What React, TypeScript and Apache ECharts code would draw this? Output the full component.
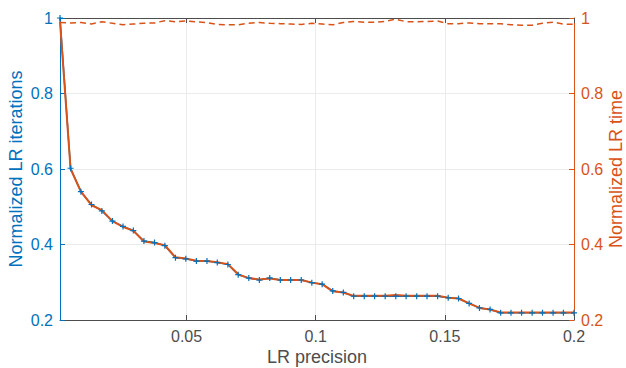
import React, { useEffect, useRef } from 'react';
import * as echarts from 'echarts';

const precision = [
  0.001, 0.0051, 0.0091, 0.0132, 0.0172, 0.0213, 0.0254, 0.0294, 0.0335, 0.0376,
  0.0416, 0.0457, 0.0497, 0.0538, 0.0579, 0.0619, 0.066, 0.07, 0.0741, 0.0782,
  0.0822, 0.0863, 0.0903, 0.0944, 0.0985, 0.1025, 0.1066, 0.1107, 0.1147, 0.1188,
  0.1228, 0.1269, 0.131, 0.135, 0.1391, 0.1431, 0.1472, 0.1513, 0.1553, 0.1594,
  0.1634, 0.1675, 0.1716, 0.1756, 0.1797, 0.1838, 0.1878, 0.1919, 0.1959, 0.2,
];

const iterations = [
  1.0, 0.602, 0.54, 0.506, 0.489, 0.462, 0.448, 0.437, 0.409, 0.405,
  0.397, 0.365, 0.362, 0.356, 0.356, 0.352, 0.347, 0.32, 0.311, 0.306,
  0.311, 0.306, 0.306, 0.306, 0.299, 0.295, 0.277, 0.273, 0.263, 0.263,
  0.263, 0.263, 0.263, 0.263, 0.263, 0.263, 0.263, 0.259, 0.257, 0.244,
  0.232, 0.228, 0.219, 0.219, 0.219, 0.219, 0.219, 0.219, 0.219, 0.219,
];

const timeNorm = [
  0.99, 0.6, 0.54, 0.504, 0.491, 0.462, 0.447, 0.436, 0.408, 0.404,
  0.398, 0.366, 0.363, 0.357, 0.356, 0.353, 0.348, 0.321, 0.311, 0.307,
  0.31, 0.306, 0.306, 0.306, 0.299, 0.295, 0.276, 0.273, 0.264, 0.264,
  0.264, 0.264, 0.266, 0.264, 0.264, 0.264, 0.264, 0.259, 0.257, 0.244,
  0.232, 0.228, 0.22, 0.22, 0.22, 0.22, 0.22, 0.22, 0.22, 0.22,
];

const timePerIteration = [
  0.988, 0.987, 0.988, 0.984, 0.99, 0.986, 0.982, 0.984, 0.986, 0.987,
  0.993, 0.99, 0.992, 0.99, 0.988, 0.983, 0.982, 0.982, 0.986, 0.988,
  0.986, 0.985, 0.984, 0.983, 0.986, 0.984, 0.982, 0.988, 0.991, 0.989,
  0.989, 0.991, 0.997, 0.99, 0.99, 0.991, 0.992, 0.985, 0.985, 0.987,
  0.985, 0.985, 0.985, 0.982, 0.981, 0.981, 0.986, 0.989, 0.984, 0.983,
];

const xTicks = [0.05, 0.1, 0.15, 0.2];

const BLUE = '#0072BD';
const ORANGE = '#D95319';
const AXIS = '#4d4d4d';
const GRIDC = '#ebebeb';
const FONT = '"Liberation Sans", Arial, Helvetica, sans-serif';

export default function App() {
  const ref = useRef<HTMLDivElement>(null);
  useEffect(() => {
    if (!ref.current) return;
    const chart = echarts.init(ref.current, null, { renderer: 'svg' });
    const pairs = (ys: number[]) => precision.map((x, i) => [x, ys[i]]);
    const yBase = (color: string, pos: 'left' | 'right', name: string, gap: number, split: boolean) => ({
      type: 'value',
      position: pos,
      min: 0.2,
      max: 1,
      interval: 0.2,
      name,
      nameLocation: 'middle',
      nameGap: gap,
      nameRotate: 90,
      nameMoveOverlap: false,
      nameTextStyle: { fontSize: 18, color, fontFamily: FONT },
      axisLine: { show: true, lineStyle: { color, width: 1 } },
      axisTick: { show: true, inside: true, length: 5, lineStyle: { color } },
      axisLabel: { fontSize: 16, color, fontFamily: FONT, margin: 7 },
      splitLine: { show: split, lineStyle: { color: GRIDC, width: 1 } },
    });
    chart.setOption({
      animation: false,
      grid: { left: 60, right: 52, top: 18, bottom: 48, containLabel: false, outerBoundsMode: 'none' },
      xAxis: [
        {
          type: 'value',
          position: 'bottom',
          min: 0.001,
          max: 0.2,
          name: 'LR precision',
          nameLocation: 'middle',
          nameGap: 28,
          nameMoveOverlap: false,
          nameTextStyle: { fontSize: 18, color: AXIS, fontFamily: FONT },
          axisLine: { show: true, onZero: false, lineStyle: { color: AXIS, width: 1 } },
          axisTick: { show: true, inside: true, length: 5, customValues: xTicks, lineStyle: { color: AXIS } },
          axisLabel: { customValues: xTicks, fontSize: 16, color: AXIS, fontFamily: FONT, margin: 8 },
          splitLine: { show: true, lineStyle: { color: GRIDC, width: 1 } },
        },
        {
          type: 'value',
          position: 'top',
          min: 0.001,
          max: 0.2,
          axisLine: { show: true, onZero: false, lineStyle: { color: AXIS, width: 1 } },
          axisTick: { show: true, inside: true, length: 5, customValues: xTicks, lineStyle: { color: AXIS } },
          axisLabel: { show: false, customValues: xTicks },
          splitLine: { show: false },
        },
      ],
      yAxis: [
        yBase(BLUE, 'left', 'Normalized LR iterations', 35, true),
        yBase(ORANGE, 'right', 'Normalized LR time', 33, false),
      ],
      series: [
        {
          type: 'line',
          xAxisIndex: 0,
          yAxisIndex: 0,
          data: pairs(iterations),
          lineStyle: { color: BLUE, width: 1.5 },
          symbol: 'path://M5,0L5,10M0,5L10,5',
          symbolSize: 6,
          showSymbol: true,
          itemStyle: { color: BLUE, borderColor: BLUE, borderWidth: 1.2 },
        },
        {
          type: 'line',
          xAxisIndex: 0,
          yAxisIndex: 1,
          data: pairs(timeNorm),
          lineStyle: { color: ORANGE, width: 2 },
          symbol: 'none',
          showSymbol: false,
        },
        {
          type: 'line',
          xAxisIndex: 0,
          yAxisIndex: 1,
          data: pairs(timePerIteration),
          lineStyle: { color: ORANGE, width: 1.5, type: [6, 4] },
          symbol: 'none',
          showSymbol: false,
        },
      ],
    });
    return () => chart.dispose();
  }, []);
  return (
    <div
      ref={ref}
      style={{ position: 'fixed', left: 0, top: 0, width: 626, height: 368, background: '#fff' }}
    />
  );
}
